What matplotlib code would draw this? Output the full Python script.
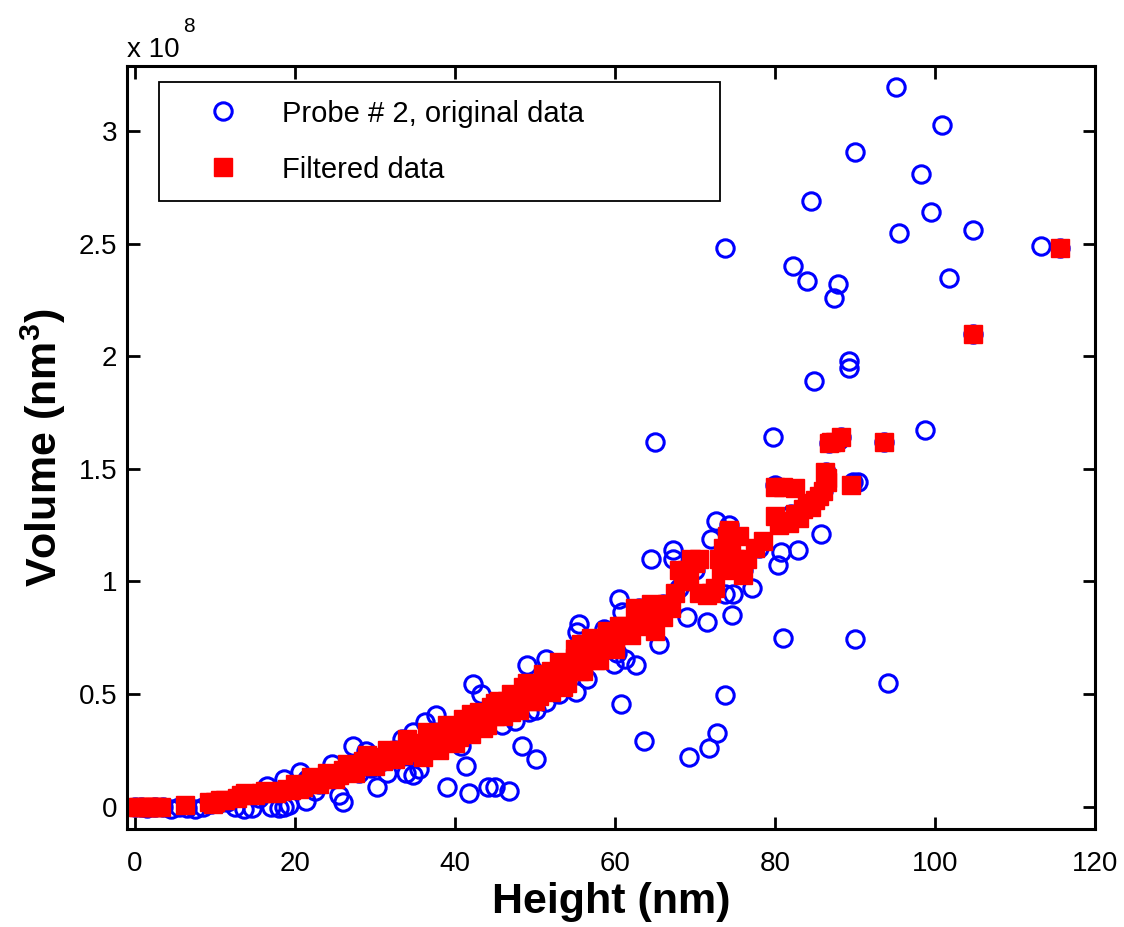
import matplotlib
matplotlib.use("Agg")
import matplotlib.pyplot as plt

plt.rcParams["font.family"] = ["Liberation Sans", "DejaVu Sans"]
plt.rcParams["mathtext.default"] = "regular"

# Volumes are given in units of 1e8 nm^3
orig_height = [
    0.0, 0.8, 1.5, 2.5, 3.5, 4.5, 5.5, 6.5, 7.5, 8.5, 9.5, 10.5, 11.5, 12.5, 13.6, 14.6,
    15.5, 16.5, 17.0, 18.0, 18.6, 19.2, 18.6, 20.6, 21.4, 22.5, 24.6, 25.5, 26.0, 27.3,
    28.9, 30.3, 29.5, 31.5, 32.5, 33.4, 33.9, 34.7, 35.5, 34.7, 36.3, 37.6, 36.8, 39.0,
    40.1, 40.8, 41.4, 41.8, 42.2, 43.3, 44.1, 45.0, 46.8, 45.9, 48.4, 50.1, 49.0, 51.4,
    49.3, 50.1, 51.4, 47.5, 53.0, 55.5, 55.3, 56.5, 55.1, 59.9, 61.3, 62.6, 60.7, 60.2,
    60.5, 60.9, 63.6, 64.5, 65.0, 65.5, 67.3, 67.3, 69.0, 69.2, 71.5, 71.7, 72.7, 72.6,
    72.0, 73.8, 73.8, 74.8, 74.6, 74.2, 73.8, 77.1, 79.8, 80.4, 80.7, 82.9, 81.0, 82.3,
    84.0, 84.5, 84.9, 85.8, 87.4, 87.9, 89.3, 89.3, 90.0, 90.0, 90.4, 94.1, 95.1, 95.5,
    98.3, 98.8, 99.5, 100.9, 101.8, 104.8, 104.8, 113.3, 115.6, 86.7, 88.3, 93.6, 86.4,
    80.0, 89.7, 58.6, 57.5, 56.0, 52.5, 54.0, 46.5, 44.5, 43.0, 38.5, 37.0, 31.0, 28.0,
    26.0, 23.0, 20.0, 21.5, 63.0, 66.0, 68.0, 70.0, 76.0, 78.0, 82.0, 84.5, 86.0, 88.0,
]
orig_volume = [
    0.0, 0.0, -0.005, 0.0, 0.0, -0.01, 0.0, -0.005, -0.01, 0.0, 0.01, 0.015, 0.02, 0.0, -0.01, -0.005,
    0.04, 0.09, 0.0, -0.005, 0.0, 0.005, 0.12, 0.155, 0.025, 0.07, 0.19, 0.05, 0.02, 0.27,
    0.245, 0.085, 0.17, 0.15, 0.25, 0.3, 0.15, 0.14, 0.165, 0.33, 0.375, 0.405, 0.25, 0.085,
    0.295, 0.27, 0.18, 0.06, 0.545, 0.5, 0.085, 0.085, 0.07, 0.36, 0.27, 0.21, 0.63, 0.655,
    0.42, 0.43, 0.465, 0.38, 0.5, 0.81, 0.775, 0.565, 0.51, 0.635, 0.655, 0.63, 0.455, 0.68,
    0.92, 0.865, 0.29, 1.10, 1.62, 0.72, 1.14, 1.10, 0.84, 0.22, 0.82, 0.26, 0.325, 1.27,
    1.19, 0.495, 0.945, 0.945, 0.85, 1.25, 2.48, 0.97, 1.64, 1.075, 1.13, 1.14, 0.75, 2.40,
    2.335, 2.69, 1.89, 1.21, 2.26, 2.32, 1.98, 1.95, 2.91, 0.745, 1.44, 0.55, 3.195, 2.55,
    2.81, 1.675, 2.64, 3.03, 2.35, 2.56, 2.10, 2.49, 2.48, 1.617, 1.64, 1.62, 1.485,
    1.43, 1.44, 0.79, 0.72, 0.68, 0.58, 0.6, 0.45, 0.42, 0.36, 0.33, 0.3, 0.2, 0.15,
    0.16, 0.1, 0.08, 0.12, 0.88, 0.9, 0.97, 1.05, 1.05, 1.15, 1.3, 1.35, 1.4, 1.63,
]

filt_height = [
    0.5, 1.2, 2.0, 2.8, 6.2, 9.2, 10.0, 11.2, 13.3, 14.5, 15.8, 17.0, 18.2, 19.5,
    20.5, 21.5, 22.5, 23.5, 24.5, 25.5, 26.0, 27.0, 28.0, 28.5, 29.5, 30.5, 31.0, 32.0,
    33.0, 33.5, 34.5, 35.5, 36.0, 37.0, 38.0, 38.5, 39.5, 40.0, 41.0, 41.5, 42.5, 43.0,
    44.0, 44.5, 45.0, 46.0, 46.5, 47.5, 48.0, 49.0, 49.5, 50.0, 51.0, 51.5, 52.5, 53.0,
    54.0, 54.5, 55.0, 55.5, 56.5, 57.0, 57.5, 58.0, 58.5, 59.0, 60.0, 60.5, 61.5, 62.5,
    63.5, 64.5, 65.5, 63.0, 64.0, 65.0, 66.0, 67.0, 67.5, 68.5, 69.0, 69.5, 70.0, 70.5,
    71.5, 72.5, 73.0, 73.5, 74.0, 74.2, 75.0, 75.5, 76.0, 76.5, 77.5, 78.5, 80.0, 80.0,
    81.0, 81.7, 82.5, 82.5, 83.5, 84.5, 85.0, 86.0, 86.2, 86.5, 86.7, 87.5, 88.3, 89.5,
    93.6, 104.8, 115.6,
    0.0, 1.6, 2.4, 3.2, 9.8, 10.6, 12.8, 13.8, 15.0, 16.3, 17.6, 19.0,
    20.0, 21.0, 22.0, 23.0, 24.0, 25.0, 26.5, 27.5, 29.0, 30.0, 31.5, 32.5, 34.0, 35.0,
    36.5, 37.5, 39.0, 40.5, 42.0, 43.5, 45.5, 47.0, 48.5, 50.5, 52.0, 53.5, 55.8, 56.0,
    57.8, 59.5, 61.0, 62.0, 64.0, 66.5, 68.0, 69.2, 70.5, 72.0, 73.2, 74.5, 75.5, 80.5,
    81.0, 83.0, 84.0, 85.5, 86.5, 87.0,
    36.0, 38.0, 40.0, 42.0, 44.0, 46.0, 48.0, 50.0, 52.0, 54.0, 56.0, 58.0, 60.0,
    41.0, 43.0, 45.0, 47.0, 49.0, 51.0, 53.0, 55.0, 57.0, 59.0, 60.5,
]
filt_volume = [
    0.0, 0.0, 0.0, 0.0, 0.005, 0.02, 0.022, 0.028, 0.05, 0.055, 0.06, 0.065, 0.07, 0.075,
    0.08, 0.10, 0.11, 0.12, 0.135, 0.14, 0.16, 0.17, 0.18, 0.20, 0.20, 0.22, 0.20, 0.24,
    0.25, 0.23, 0.27, 0.28, 0.26, 0.30, 0.30, 0.33, 0.32, 0.35, 0.34, 0.37, 0.39, 0.37,
    0.41, 0.44, 0.40, 0.44, 0.47, 0.46, 0.49, 0.50, 0.47, 0.53, 0.52, 0.56, 0.55, 0.60,
    0.58, 0.63, 0.66, 0.60, 0.68, 0.71, 0.65, 0.74, 0.70, 0.77, 0.75, 0.77, 0.77, 0.88,
    0.87, 0.90, 0.88, 0.82, 0.80, 0.78, 0.84, 0.88, 0.95, 1.00, 1.05, 1.10, 1.08, 0.95,
    0.94, 0.97, 1.10, 1.15, 1.20, 1.23, 1.10, 1.05, 1.03, 1.10, 1.15, 1.18, 1.29, 1.42,
    1.27, 1.26, 1.30, 1.415, 1.32, 1.33, 1.36, 1.40, 1.485, 1.44, 1.617, 1.62, 1.64, 1.43,
    1.62, 2.10, 2.48,
    0.0, 0.0, 0.0, 0.0, 0.01, 0.03, 0.04, 0.06, 0.05, 0.07, 0.06, 0.08,
    0.10, 0.085, 0.13, 0.10, 0.15, 0.12, 0.19, 0.15, 0.23, 0.18, 0.25, 0.21, 0.30, 0.24,
    0.33, 0.27, 0.36, 0.31, 0.41, 0.35, 0.47, 0.42, 0.53, 0.49, 0.60, 0.53, 0.72, 0.62,
    0.67, 0.72, 0.80, 0.76, 0.86, 0.90, 1.05, 1.00, 1.10, 0.95, 1.05, 1.15, 1.20, 1.25,
    1.42, 1.28, 1.35, 1.38, 1.46, 1.62,
    0.22, 0.25, 0.28, 0.32, 0.36, 0.40, 0.43, 0.47, 0.51, 0.55, 0.60, 0.65, 0.70,
    0.39, 0.42, 0.46, 0.50, 0.55, 0.59, 0.64, 0.70, 0.75, 0.78, 0.80,
]

x_ticks = [0, 20, 40, 60, 80, 100, 120]
y_ticks = [0, 0.5, 1, 1.5, 2, 2.5, 3]
y_tick_labels = ["0", "0.5", "1", "1.5", "2", "2.5", "3"]

fig = plt.figure(figsize=(11.24, 9.27), dpi=100)
ax = fig.add_axes([0.1130, 0.1057, 0.8612, 0.8231])

ax.plot(orig_height, orig_volume, linestyle="none", marker="o", markersize=12.5,
        markerfacecolor="none", markeredgecolor="#0000ff", markeredgewidth=2.2,
        label="Probe # 2, original data")
ax.plot(filt_height, filt_volume, linestyle="none", marker="s", markersize=13.5,
        markerfacecolor="#ff0000", markeredgecolor="#ff0000", markeredgewidth=1,
        label="Filtered data")

ax.set_xlim(-1, 120)
ax.set_ylim(-0.1, 3.29)
ax.set_xticks(x_ticks)
ax.set_yticks(y_ticks)
ax.set_yticklabels(y_tick_labels)
ax.tick_params(direction="in", length=9, width=2, top=True, right=True,
               labelsize=20, colors="black")
ax.tick_params(axis="x", pad=16)
ax.tick_params(axis="y", pad=7)
for side in ax.spines.values():
    side.set_linewidth(2.2)

ax.set_xlabel("Height (nm)", fontsize=31, fontweight="bold")
ax.xaxis.set_label_coords(0.5, -0.069)
ax.set_ylabel("Volume (nm$^3$)", fontsize=31, fontweight="bold")
ax.yaxis.set_label_coords(-0.061, 0.5)

# exponent label like MATLAB's "x 10^8"
ax.text(0.0, 1.0118, "x 10", transform=ax.transAxes, fontsize=20,
        ha="left", va="baseline")
ax.text(0.058, 1.045, "8", transform=ax.transAxes, fontsize=15,
        ha="left", va="baseline")

leg = ax.legend(loc="upper left", bbox_to_anchor=(0.033, 0.979, 0.5795, 0.0),
                mode="expand", fontsize=21, frameon=True, fancybox=False,
                edgecolor="black", framealpha=1, numpoints=1,
                handlelength=3.18, handletextpad=0.43, borderpad=0.6,
                labelspacing=0.96, borderaxespad=0)
leg.get_frame().set_linewidth(1.3)

fig.savefig("out.png", dpi=100, facecolor="white")
